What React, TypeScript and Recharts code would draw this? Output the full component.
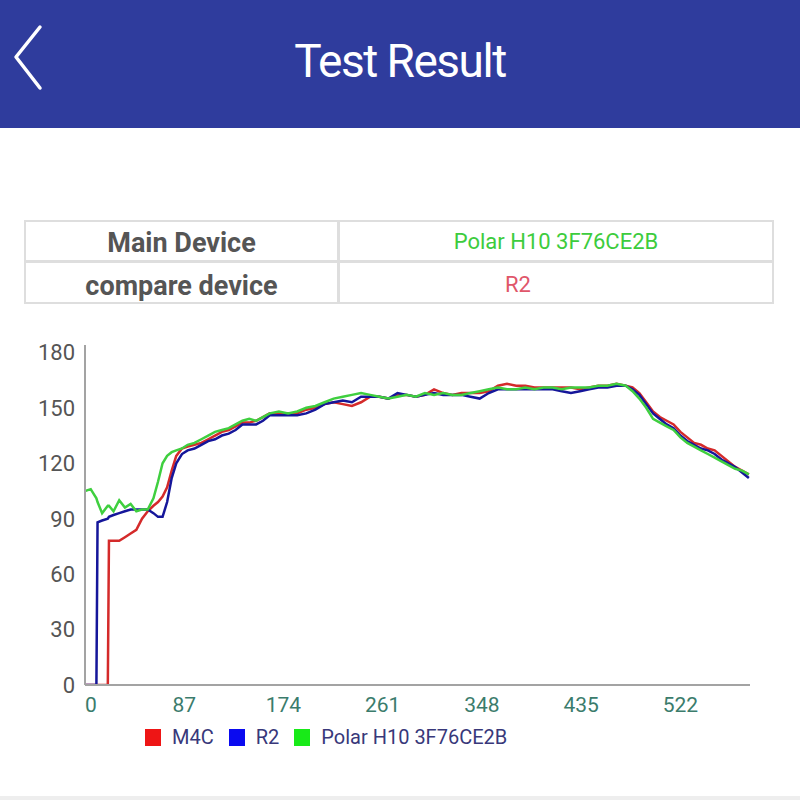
import React from 'react';
import { LineChart, Line, XAxis, YAxis, Legend } from 'recharts';

const times = [
  0, 5, 10, 11, 15, 20, 21, 25, 30, 35,
  40, 45, 50, 55, 60, 64, 68, 72, 76, 80,
  85, 90, 96, 102, 108, 114, 120, 126, 132, 138,
  144, 150, 156, 162, 170, 178, 186, 194, 202, 210,
  218, 226, 234, 242, 250, 258, 266, 274, 282, 290,
  298, 306, 314, 322, 330, 338, 346, 354, 362, 370,
  378, 386, 394, 402, 410, 418, 426, 434, 442, 450,
  458, 466, 474, 480, 486, 492, 498, 504, 510, 516,
  522, 528, 534, 540, 546, 552, 558, 564, 570, 576,
  582,
];

const polarValues = [
  105, 106, 101, 99, 93, 97, 97, 94, 100, 96,
  98, 94, 95, 95, 101, 110, 120, 124, 126, 127,
  128, 130, 131, 133, 135, 137, 138, 139, 141, 143,
  144, 143, 145, 147, 148, 147, 148, 150, 151, 153,
  155, 156, 157, 158, 157, 156, 155, 156, 157, 156,
  158, 157, 158, 157, 157, 158, 159, 160, 161, 160,
  160, 161, 160, 161, 161, 160, 161, 161, 161, 162,
  162, 163, 162, 159, 155, 150, 144, 142, 140, 138,
  134, 131, 129, 127, 125, 123, 121, 119, 117, 116,
  114,
];

const r2Values = [
  0, 0, 0, 88, 89, 90, 91, 92, 93, 94,
  95, 95, 95, 95, 93, 91, 91, 99, 112, 120,
  125, 127, 128, 130, 132, 133, 135, 136, 138, 141,
  141, 141, 143, 146, 146, 146, 146, 147, 149, 152,
  153, 154, 153, 156, 156, 156, 155, 158, 157, 156,
  157, 158, 157, 157, 157, 156, 155, 158, 160, 160,
  160, 160, 160, 160, 160, 159, 158, 159, 160, 161,
  161, 162, 162, 160, 157, 152, 147, 144, 141, 139,
  135, 132, 130, 128, 127, 125, 122, 120, 118, 115,
  112,
];

const m4cValues = [
  0, 0, 0, 0, 0, 0, 78, 78, 78, 80,
  82, 84, 90, 94, 97, 99, 102, 107, 116, 124,
  128, 129, 130, 131, 133, 135, 137, 138, 140, 142,
  142, 143, 145, 147, 147, 147, 147, 149, 150, 152,
  153, 152, 151, 153, 156, 156, 155, 157, 157, 156,
  157, 160, 158, 157, 158, 158, 158, 159, 162, 163,
  162, 162, 161, 161, 161, 161, 161, 160, 161, 162,
  162, 163, 162, 161, 158, 153, 148, 145, 143, 141,
  137, 134, 131, 130, 128, 127, 124, 121, 118, 116,
  114,
];

const xTicks = [0, 87, 174, 261, 348, 435, 522];
const yTicks = [0, 30, 60, 90, 120, 150, 180];

const seriesOrder = ['m4c', 'r2', 'polar'];
const seriesNames: Record<string, string> = { m4c: 'M4C', r2: 'R2', polar: 'Polar H10 3F76CE2B' };
const lineColors: Record<string, string> = { m4c: '#d42a2a', r2: '#15169a', polar: '#3fcf3f' };
const legendColors: Record<string, string> = { m4c: '#ee1515', r2: '#0a0af0', polar: '#18ea18' };

const rows = times.map((t, i) => ({
  t,
  m4c: m4cValues[i],
  r2: r2Values[i],
  polar: polarValues[i],
}));

const FONT = 'Roboto, "Noto Sans", sans-serif';

const renderLegend = (props: any) => {
  const payload = [...(props.payload || [])].sort(
    (a: any, b: any) => seriesOrder.indexOf(a.dataKey) - seriesOrder.indexOf(b.dataKey)
  );
  return (
    <div
      style={{
        display: 'flex',
        alignItems: 'center',
        height: 44,
        fontFamily: FONT,
        fontSize: 20,
        color: '#38387a',
        whiteSpace: 'nowrap',
      }}
    >
      {payload.map((p: any) => (
        <div key={p.dataKey} style={{ display: 'flex', alignItems: 'center', marginRight: 15 }}>
          <span
            style={{
              display: 'inline-block',
              width: 16,
              height: 17,
              background: legendColors[p.dataKey],
            }}
          />
          <span style={{ marginLeft: 11 }}>{p.value}</span>
        </div>
      ))}
    </div>
  );
};

const XTick = (props: any) => {
  const { x, y, payload } = props;
  const shift = payload.value === 0 ? 6 : 0;
  return (
    <text
      x={x + shift}
      y={y}
      dy="0.71em"
      textAnchor="middle"
      fontFamily={FONT}
      fontSize={21}
      fill="#3b7c6c"
    >
      {payload.value}
    </text>
  );
};

export default function App() {
  return (
    <div
      style={{
        position: 'absolute',
        left: 0,
        top: 0,
        width: 800,
        height: 800,
        background: '#ffffff',
        overflow: 'hidden',
        fontFamily: FONT,
      }}
    >
      {/* header */}
      <div style={{ position: 'absolute', left: 0, top: 0, width: 800, height: 128, background: '#2f3c9d' }} />
      <svg style={{ position: 'absolute', left: 0, top: 0 }} width={60} height={128}>
        <polyline
          points="40,27 16,57 40,88"
          fill="none"
          stroke="#ffffff"
          strokeWidth={3.5}
          strokeLinecap="round"
          strokeLinejoin="round"
        />
      </svg>
      <div
        style={{
          position: 'absolute',
          left: 0,
          top: 33,
          width: 800,
          textAlign: 'center',
          color: '#ffffff',
          fontSize: 46,
          lineHeight: '56px',
          letterSpacing: -1.5,
        }}
      >
        Test Result
      </div>

      {/* device table */}
      <div
        style={{
          position: 'absolute',
          left: 24,
          top: 220,
          width: 750,
          height: 84,
          border: '2.5px solid #dedede',
          boxSizing: 'border-box',
        }}
      />
      <div style={{ position: 'absolute', left: 24, top: 260, width: 750, height: 3, background: '#dedede' }} />
      <div style={{ position: 'absolute', left: 337, top: 220, width: 3, height: 84, background: '#dedede' }} />
      <div
        style={{
          position: 'absolute',
          left: 25,
          top: 223,
          width: 313,
          height: 40,
          lineHeight: '40px',
          textAlign: 'center',
          fontSize: 27,
          fontWeight: 'bold',
          color: '#555555',
        }}
      >
        Main Device
      </div>
      <div
        style={{
          position: 'absolute',
          left: 25,
          top: 266,
          width: 313,
          height: 40,
          lineHeight: '40px',
          textAlign: 'center',
          fontSize: 27,
          fontWeight: 'bold',
          color: '#555555',
        }}
      >
        compare device
      </div>
      <div
        style={{
          position: 'absolute',
          left: 340,
          top: 222,
          width: 432,
          height: 40,
          lineHeight: '40px',
          textAlign: 'center',
          fontSize: 22,
          color: '#3dcc3d',
        }}
      >
        {seriesNames.polar}
      </div>
      <div
        style={{
          position: 'absolute',
          left: 505,
          top: 265,
          height: 40,
          lineHeight: '40px',
          fontSize: 22,
          color: '#e0566a',
        }}
      >
        {seriesNames.r2}
      </div>

      {/* chart */}
      <div style={{ position: 'absolute', left: 0, top: 330 }}>
        <LineChart width={800} height={429} data={rows} margin={{ top: 15, right: 50, left: 25, bottom: 0 }}>
          <XAxis
            type="number"
            dataKey="t"
            domain={[0, 583]}
            ticks={xTicks}
            interval={0}
            allowDataOverflow
            height={30}
            tickLine={false}
            axisLine={{ stroke: '#a3a3a3', strokeWidth: 2 }}
            tickMargin={6}
            tick={<XTick />}
          />
          <YAxis
            type="number"
            domain={[0, 184]}
            ticks={yTicks}
            interval={0}
            allowDataOverflow
            width={60}
            tickLine={false}
            axisLine={{ stroke: '#a3a3a3', strokeWidth: 2 }}
            tickMargin={4}
            tick={{ fontFamily: FONT, fontSize: 22, fill: '#555555' }}
          />
          <Legend
            verticalAlign="bottom"
            align="left"
            content={renderLegend}
            wrapperStyle={{ left: 145, width: 'auto' }}
          />
          {seriesOrder.map((key) => (
            <Line
              key={key}
              type="linear"
              dataKey={key}
              name={seriesNames[key]}
              stroke={lineColors[key]}
              strokeWidth={2.5}
              dot={false}
              activeDot={false}
              isAnimationActive={false}
            />
          ))}
        </LineChart>
      </div>

      <div style={{ position: 'absolute', left: 0, top: 796, width: 800, height: 4, background: '#eeeeee' }} />
    </div>
  );
}
